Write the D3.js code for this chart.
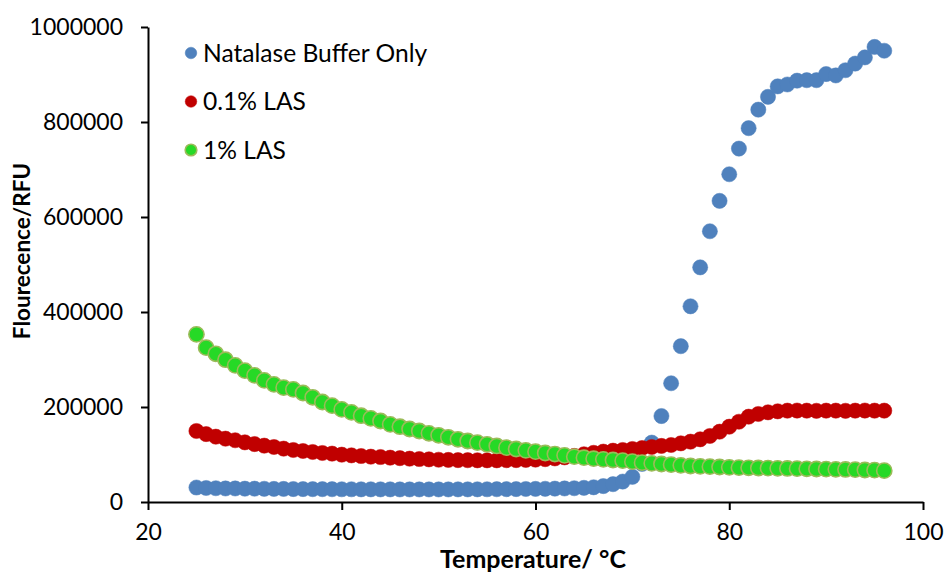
<!DOCTYPE html>
<html>
<head>
<meta charset="utf-8">
<script src="https://cdn.jsdelivr.net/npm/d3@7"></script>
<style>
  html, body { margin: 0; padding: 0; background: #fff; }
  svg { display: block; font-family: Lato, "Open Sans", sans-serif; }
</style>
</head>
<body>
<svg id="chart" width="945" height="575"></svg>
<script>
const temperatures = d3.range(25, 97);
const bufferOnly = [30500,29500,29000,28500,28500,28000,28000,27800,27500,27500,27300,27200,27000,27000,26900,26800,26800,26700,26700,26600,26600,26500,26500,26500,26500,26500,26500,26600,26600,26700,26800,26900,27000,27200,27400,27600,27800,28100,28500,29000,29800,31000,33500,37500,43000,53000,80000,125000,181000,250000,328000,412000,494000,570000,634000,690000,744000,787000,826000,853000,875000,879000,887000,888000,888000,901000,898000,909000,923000,936000,958000,950000];
const las01 = [149500,143000,137500,133300,130000,125600,122000,118600,115800,112300,109500,107400,105300,103200,101800,99600,98200,96800,95400,94700,93300,92300,91200,90500,89800,89000,88600,88200,88000,87800,87800,87800,88000,88200,88600,89200,90200,91800,94000,97000,100500,103500,106000,108000,109500,111600,113700,115800,118000,120000,123500,127000,132000,139000,148000,158500,169000,179600,185300,188800,190900,192300,192500,192300,192000,192300,192300,192000,192300,192500,192300,192300];
const las1 = [353000,325000,312000,299600,287700,276500,266700,256000,247700,240700,237000,229500,220400,210500,202800,195000,188800,181700,176000,170500,163500,158500,153700,149500,144600,140400,136200,132000,128400,124900,121500,118000,114400,111600,108800,106000,103200,101000,98200,95400,93300,91200,89800,88400,87000,84900,82800,81400,80000,78600,77200,75800,75100,74400,73700,73000,72300,72000,71600,71300,70900,70600,70200,69900,69500,69200,68800,68500,68100,67400,67000,66000];
const seriesNames = ["Natalase Buffer Only", "0.1% LAS", "1% LAS"];
const xTicks = [20, 40, 60, 80, 100];
const yTicks = [0, 200000, 400000, 600000, 800000, 1000000];
const xTitle = "Temperature/ °C";
const yTitle = "Flourecence/RFU";

const series = [
  { name: seriesNames[0], values: bufferOnly, fill: "#4F81BD", stroke: "#4F81BD", sw: 0.5 },
  { name: seriesNames[1], values: las01, fill: "#C00000", stroke: "#C00000", sw: 0.5 },
  { name: seriesNames[2], values: las1, fill: "#26D926", stroke: "#9BBB59", sw: 1.6 }
];

const svg = d3.select("#chart");
const plotLeft = 148, plotRight = 923, plotTop = 27, plotBottom = 502;

const x = d3.scaleLinear().domain([20, 100]).range([plotLeft, plotRight]);
const y = d3.scaleLinear().domain([0, 1000000]).range([plotBottom, plotTop]);

const fontSize = 23;

const xAxis = svg.append("g")
  .attr("transform", `translate(0,${plotBottom})`)
  .call(d3.axisBottom(x).tickValues(xTicks).tickSize(8).tickSizeOuter(0).tickPadding(14).tickFormat(d3.format("d")));
const yAxis = svg.append("g")
  .attr("transform", `translate(${plotLeft},0)`)
  .call(d3.axisLeft(y).tickValues(yTicks).tickSize(7).tickSizeOuter(0).tickPadding(18).tickFormat(d3.format("d")));

[xAxis, yAxis].forEach(g => {
  g.select(".domain").attr("stroke", "#000").attr("stroke-width", 2);
  g.selectAll(".tick line").attr("stroke", "#000").attr("stroke-width", 2);
  g.selectAll(".tick text").attr("fill", "#000").attr("font-size", fontSize).attr("font-family", "Lato, sans-serif");
});

series.forEach(s => {
  svg.append("g").selectAll("circle")
    .data(s.values.map((v, i) => ({ t: temperatures[i], v })))
    .join("circle")
    .attr("cx", d => x(d.t))
    .attr("cy", d => y(d.v))
    .attr("r", 7.6)
    .attr("fill", s.fill)
    .attr("stroke", s.stroke)
    .attr("stroke-width", s.sw);
});

const legend = svg.append("g");
series.forEach((s, i) => {
  const ly = 53 + i * 48.5;
  legend.append("circle").attr("cx", 191).attr("cy", ly).attr("r", 5.8)
    .attr("fill", s.fill).attr("stroke", s.stroke).attr("stroke-width", s.sw);
  legend.append("text").attr("x", 203).attr("y", ly).attr("dy", "0.36em")
    .attr("font-size", 24.6).attr("fill", "#000").text(s.name);
});

svg.append("text")
  .attr("x", 533).attr("y", 568)
  .attr("text-anchor", "middle").attr("font-weight", "bold")
  .attr("font-size", 25).attr("fill", "#000")
  .text(xTitle);
svg.append("text")
  .attr("transform", `translate(30,251) rotate(-90)`)
  .attr("text-anchor", "middle").attr("font-weight", "bold")
  .attr("font-size", 22.5).attr("fill", "#000")
  .text(yTitle);
</script>
</body>
</html>
